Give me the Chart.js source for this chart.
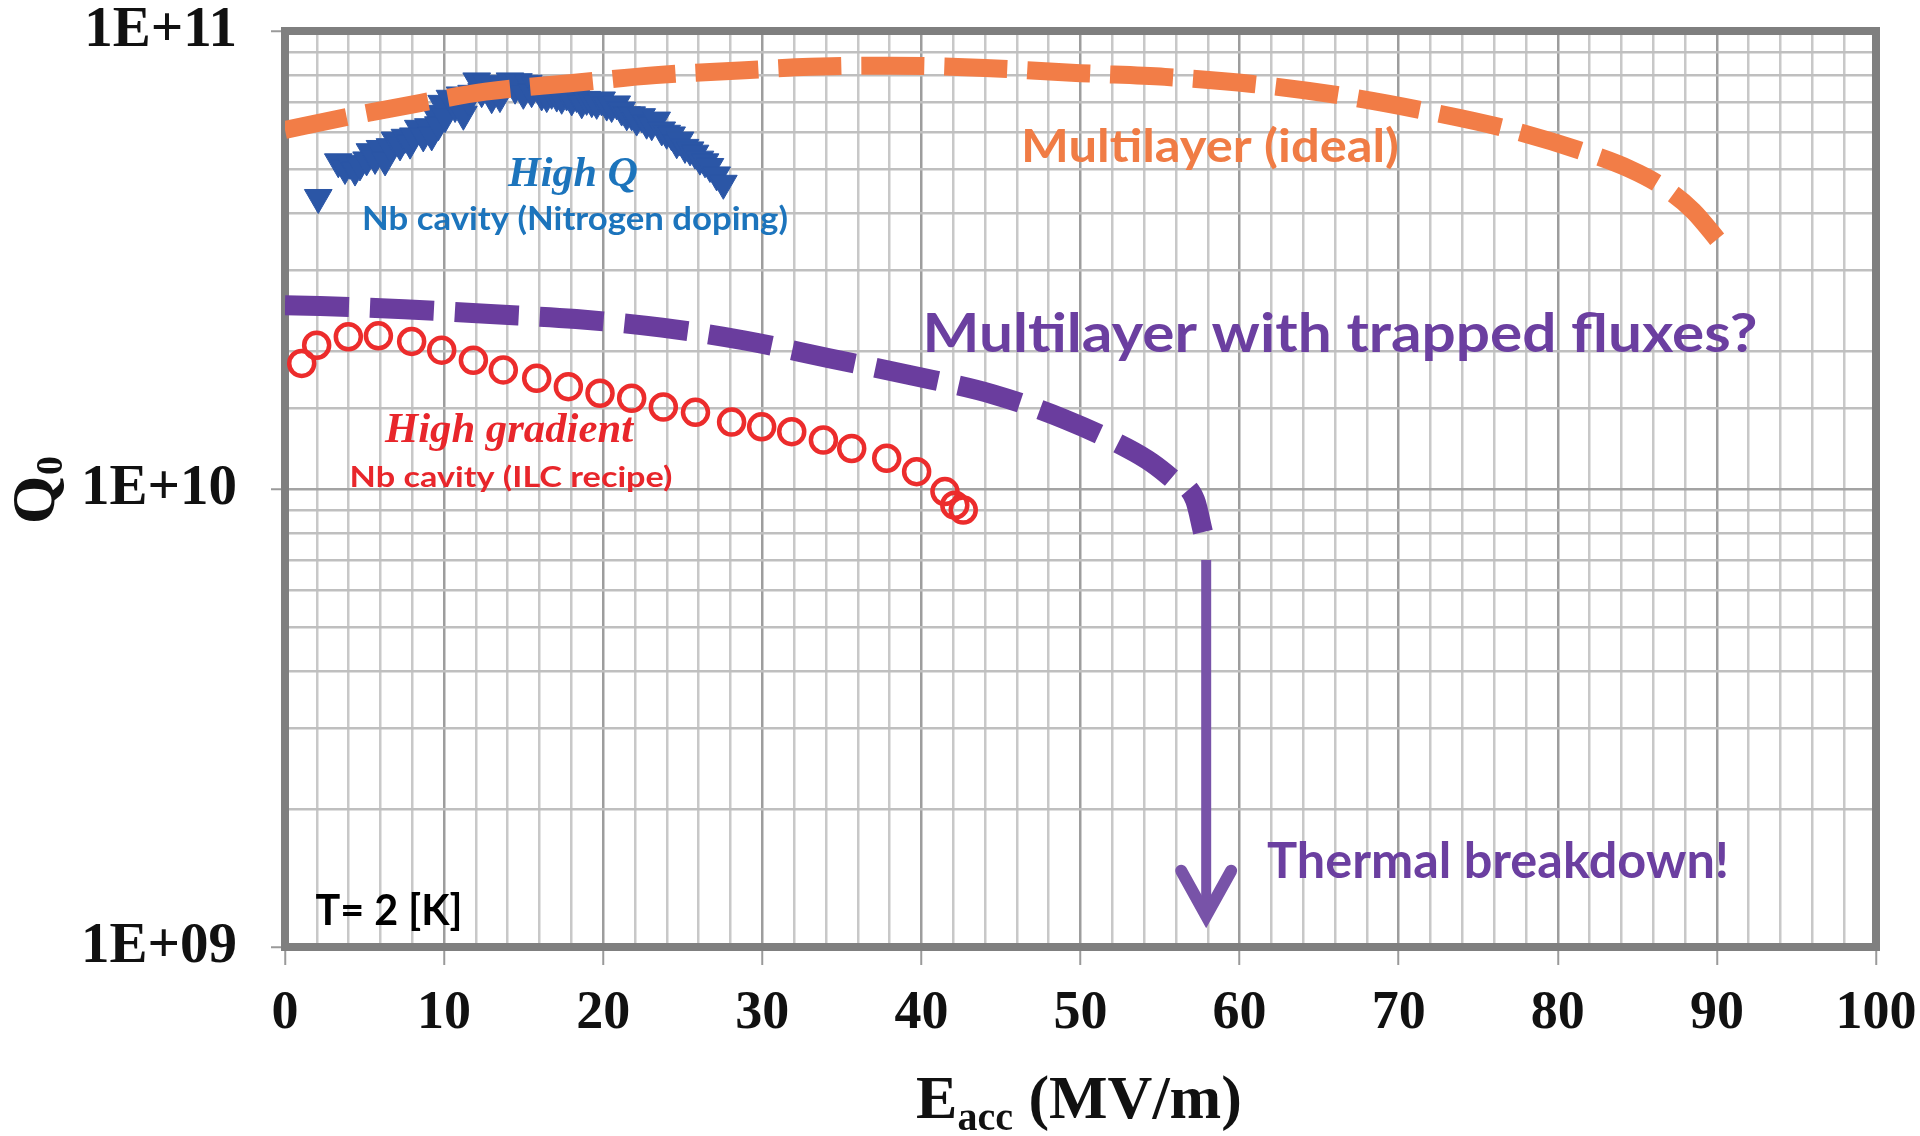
<!DOCTYPE html>
<html>
<head>
<meta charset="utf-8">
<script src="https://cdn.jsdelivr.net/npm/chart.js@4.4.1/dist/chart.umd.min.js"></script>
<style>
html,body{margin:0;padding:0;background:#ffffff;}
canvas{display:block;}
</style>
</head>
<body>
<canvas id="c" width="1920" height="1136"></canvas>
<script>
// ---------------- DATA ----------------
// Multilayer (ideal) – orange dashed curve
const idealE = [0, 3.5, 7.3, 12.6, 17.9, 23.3, 28.6, 33, 38, 44, 50, 55.3, 60.8, 66.1, 71.4, 76.6, 81.7, 84.5, 86.6, 88.5, 90.2];
const idealQ = [6.08e10, 6.45e10, 6.84e10, 7.37e10, 7.69e10, 8.01e10, 8.2e10, 8.35e10, 8.4e10, 8.3e10, 8.09e10, 7.94e10, 7.66e10, 7.25e10, 6.72e10, 6.14e10, 5.44e10, 5.0e10, 4.57e10, 4.05e10, 3.45e10];

// Multilayer with trapped fluxes – purple dashed curve
const trapE = [0, 2.2, 7.5, 12.9, 18.3, 23.7, 28.9, 34.2, 39.4, 44.5, 49, 52.9, 54.5, 55.8, 57.2, 57.7];
const trapQ = [2.52e10, 2.51e10, 2.47e10, 2.41e10, 2.35e10, 2.25e10, 2.11e10, 1.93e10, 1.77e10, 1.61e10, 1.42e10, 1.23e10, 1.14e10, 1.05e10, 9.46e9, 8.05e9];

// High Q – Nb cavity (Nitrogen doping), blue triangles
const highQE = [2.09,3.35,3.77,4.09,4.40,4.71,5.13,5.34,5.66,5.97,6.29,6.60,6.91,7.23,7.54,7.86,8.07,8.38,8.69,9.01,9.22,9.43,9.64,9.85,10.06,10.37,10.69,11.00,11.21,11.52,11.73,12.05,12.36,12.68,12.99,13.20,13.51,13.72,14.14,14.46,14.67,14.98,15.29,15.50,15.71,16.13,16.45,16.76,17.08,17.39,17.70,18.02,18.33,18.65,18.96,19.28,19.59,19.90,20.22,20.53,20.85,21.16,21.48,21.79,22.10,22.42,22.73,23.05,23.36,23.68,23.99,24.30,24.62,24.83,25.14,25.46,25.77,26.08,26.40,26.71,27.13,27.55];
const highQQ = [4.33e10,5.18e10,5.01e10,5.14e10,4.97e10,5.10e10,5.23e10,5.45e10,5.27e10,5.54e10,5.23e10,5.59e10,5.78e10,5.64e10,5.86e10,5.69e10,5.90e10,6.13e10,5.90e10,6.18e10,5.93e10,6.61e10,6.24e10,6.95e10,6.50e10,7.13e10,6.84e10,7.25e10,6.58e10,7.07e10,7.31e10,7.78e10,7.37e10,7.69e10,7.15e10,7.43e10,7.19e10,7.62e10,7.78e10,7.50e10,7.75e10,7.31e10,7.69e10,7.37e10,7.62e10,7.25e10,7.19e10,7.31e10,7.21e10,7.13e10,7.25e10,7.07e10,7.19e10,6.97e10,7.09e10,7.01e10,6.95e10,7.07e10,6.89e10,6.84e10,6.93e10,6.72e10,6.56e10,6.56e10,6.39e10,6.50e10,6.29e10,6.24e10,6.39e10,6.08e10,5.98e10,5.93e10,5.70e10,5.78e10,5.57e10,5.50e10,5.41e10,5.25e10,5.18e10,5.06e10,4.85e10,4.65e10];

// High gradient – Nb cavity (ILC recipe), red circles
const gradE = [1.05,1.99,3.98,5.87,7.96,9.85,11.84,13.72,15.82,17.81,19.80,21.79,23.78,25.80,28.07,29.96,31.85,33.84,35.62,37.82,39.70,41.48,42.10,42.63];
const gradQ = [1.88e10,2.06e10,2.15e10,2.16e10,2.10e10,2.01e10,1.91e10,1.82e10,1.745e10,1.673e10,1.618e10,1.578e10,1.51e10,1.47e10,1.40e10,1.367e10,1.334e10,1.279e10,1.226e10,1.167e10,1.091e10,9.87e9,9.22e9,9.0e9];

// Thermal breakdown arrow (E, Q from -> Q to)
const arrowE = 57.9;
const arrowQ = [7.0e9, 1.17e9];

// Tick labels
const xTickValues = [0, 10, 20, 30, 40, 50, 60, 70, 80, 90, 100];
const xTickLabels = ['0', '10', '20', '30', '40', '50', '60', '70', '80', '90', '100'];
const yTickValues = [1e9, 1e10, 1e11];
const yTickLabels = ['1E+09', '1E+10', '1E+11'];

// ---------------- HELPERS ----------------
function pts(xs, ys) { return xs.map((x, i) => ({ x: x, y: ys[i] })); }
function xIdx(v) { return xTickValues.findIndex(t => Math.abs(t - v) < 1e-6); }
function yIdx(v) { return yTickValues.findIndex(t => Math.abs(t - v) / t < 1e-6); }

const SERIF = '"Liberation Serif", "Times New Roman", serif';
const SANS = 'Lato, "Open Sans", sans-serif';
const TARGET = { left: 285, top: 31, right: 1876, bottom: 947 };

const annotations = [
  { text: 'High Q', font: 'italic bold 43px ' + SERIF, color: '#1c74bc', cx: 573, base: 186, w: 130 },
  { text: 'Nb cavity (Nitrogen doping)', font: 'bold 32px ' + SANS, color: '#1c74bc', cx: 575, base: 230, w: 426 },
  { text: 'Multilayer (ideal)', font: 'bold 46px ' + SANS, color: '#f07c45', cx: 1210, base: 162, w: 378 },
  { text: 'Multilayer with trapped fluxes?', font: 'bold 54px ' + SANS, color: '#6b3fa0', cx: 1340, base: 352, w: 835 },
  { text: 'High gradient', font: 'italic bold 42px ' + SERIF, color: '#e8262b', cx: 509, base: 442, w: 248 },
  { text: 'Nb cavity (ILC recipe)', font: 'bold 28px ' + SANS, color: '#e8262b', cx: 511, base: 487, w: 323 },
  { text: 'Thermal breakdown!', font: 'bold 49px ' + SANS, color: '#6b3fa0', cx: 1498, base: 878, w: 462 },
  { text: 'T= 2 [K]', font: 'bold 42px ' + SANS, color: '#000000', cx: 389, base: 925, w: 147 }
];

function drawFitted(ctx, a) {
  ctx.save();
  ctx.font = a.font;
  ctx.fillStyle = a.color;
  ctx.textAlign = 'left';
  ctx.textBaseline = 'alphabetic';
  const w = ctx.measureText(a.text).width;
  const s = a.w / w;
  ctx.translate(a.cx - a.w / 2, a.base);
  ctx.scale(s, 1);
  ctx.fillText(a.text, 0, 0);
  ctx.restore();
}

const decorPlugin = {
  id: 'decor',
  beforeDatasetsDraw(chart) {
    const ctx = chart.ctx, a = chart.chartArea;
    ctx.save();
    ctx.strokeStyle = '#7f7f7f';
    ctx.lineWidth = 8;
    ctx.strokeRect(a.left, a.top, a.right - a.left, a.bottom - a.top);
    ctx.restore();
  },
  afterDatasetsDraw(chart) {
    const ctx = chart.ctx;
    const xs = chart.scales.x, ys = chart.scales.y;
    const x = xs.getPixelForValue(arrowE);
    const y1 = ys.getPixelForValue(arrowQ[0]);
    const y2 = ys.getPixelForValue(arrowQ[1]);
    ctx.save();
    ctx.strokeStyle = '#7853a8';
    ctx.lineWidth = 10;
    ctx.lineCap = 'butt';
    ctx.beginPath();
    ctx.moveTo(x, y1);
    ctx.lineTo(x, y2 - 4);
    ctx.stroke();
    ctx.lineWidth = 12;
    ctx.lineCap = 'round';
    ctx.lineJoin = 'miter';
    ctx.miterLimit = 10;
    ctx.beginPath();
    ctx.moveTo(x - 25, y2 - 45);
    ctx.lineTo(x, y2);
    ctx.lineTo(x + 25, y2 - 45);
    ctx.stroke();
    ctx.restore();
  },
  afterDraw(chart) {
    const ctx = chart.ctx;
    annotations.forEach(a => drawFitted(ctx, a));

    // x-axis title: E_acc (MV/m)
    ctx.save();
    ctx.fillStyle = '#111111';
    ctx.textBaseline = 'alphabetic';
    ctx.textAlign = 'left';
    const big = 'bold 62px ' + SERIF, small = 'bold 40px ' + SERIF;
    ctx.font = big; const wE = ctx.measureText('E').width; const wU = ctx.measureText(' (MV/m)').width;
    ctx.font = small; const wS = ctx.measureText('acc').width;
    let x0 = 1079 - (wE + wS + wU) / 2;
    const base = 1118;
    ctx.font = big; ctx.fillText('E', x0, base); x0 += wE;
    ctx.font = small; ctx.fillText('acc', x0, base + 12); x0 += wS;
    ctx.font = big; ctx.fillText(' (MV/m)', x0, base);
    ctx.restore();

    // y-axis title: Q0 rotated
    ctx.save();
    ctx.fillStyle = '#111111';
    ctx.translate(54, 500);
    ctx.rotate(-Math.PI / 2);
    ctx.textBaseline = 'alphabetic';
    ctx.font = 'bold 62px ' + SERIF;
    ctx.textAlign = 'center';
    ctx.fillText('Q', 0, 0);
    const wq = ctx.measureText('Q').width;
    ctx.font = 'bold 38px ' + SERIF;
    ctx.textAlign = 'left';
    ctx.fillText('0', wq / 2 + 1, 8);
    ctx.restore();
  }
};

const chart = new Chart(document.getElementById('c'), {
  type: 'scatter',
  data: {
    datasets: [
      {
        label: 'Multilayer (ideal)',
        data: pts(idealE, idealQ),
        showLine: true,
        borderColor: '#f27d47',
        borderWidth: 18,
        borderDash: [63, 20],
        borderCapStyle: 'butt',
        pointRadius: 0,
        cubicInterpolationMode: 'monotone',
        tension: 0.4,
        fill: false
      },
      {
        label: 'Multilayer with trapped fluxes?',
        data: pts(trapE, trapQ),
        showLine: true,
        borderColor: '#6a3d9e',
        borderWidth: 20,
        borderDash: [64, 21],
        borderCapStyle: 'butt',
        pointRadius: 0,
        cubicInterpolationMode: 'monotone',
        tension: 0.4,
        fill: false
      },
      {
        label: 'High gradient',
        data: pts(gradE, gradQ),
        showLine: false,
        pointStyle: 'circle',
        pointRadius: 12.5,
        pointBorderWidth: 4.5,
        pointBackgroundColor: 'rgba(0,0,0,0)',
        pointBorderColor: '#ec2c2c'
      },
      {
        label: 'High Q',
        data: pts(highQE, highQQ),
        showLine: false,
        pointStyle: 'triangle',
        pointRotation: 180,
        pointRadius: 16,
        pointBorderWidth: 1,
        pointBackgroundColor: '#2b56a6',
        pointBorderColor: '#2b56a6'
      }
    ]
  },
  options: {
    responsive: false,
    devicePixelRatio: 1,
    animation: false,
    events: [],
    layout: { autoPadding: false, padding: { left: 0, top: TARGET.top, right: 1920 - TARGET.right, bottom: 0 } },
    plugins: { legend: { display: false }, tooltip: { enabled: false } },
    scales: {
      x: {
        type: 'linear',
        min: 0, max: 100,
        afterFit: (s) => { s.height = 1136 - TARGET.bottom; s.paddingLeft = 0; s.paddingRight = 0; },
        border: { display: false },
        grid: {
          color: (c) => (xIdx(c.tick.value) >= 0 ? '#9d9d9d' : '#c8c8c8'),
          lineWidth: 2.5,
          drawTicks: true,
          tickLength: 18,
          tickWidth: 2,
          tickColor: (c) => (xIdx(c.tick.value) >= 0 ? '#9a9a9a' : 'rgba(0,0,0,0)')
        },
        ticks: {
          stepSize: 2,
          autoSkip: false,
          maxRotation: 0,
          padding: 17,
          color: '#111111',
          font: { family: SERIF, size: 54, weight: 'bold', lineHeight: 1.2 },
          callback: (v) => { const i = xIdx(v); return i >= 0 ? xTickLabels[i] : ''; }
        }
      },
      y: {
        type: 'logarithmic',
        min: 1e9, max: 1e11,
        afterFit: (s) => { s.width = TARGET.left; s.paddingTop = 0; s.paddingBottom = 0; },
        border: { display: false },
        grid: {
          color: (c) => (yIdx(c.tick.value) >= 0 ? '#a3a3a3' : '#bfbfbf'),
          lineWidth: 2.5,
          drawTicks: true,
          tickLength: 14,
          tickWidth: 2,
          tickColor: (c) => (yIdx(c.tick.value) >= 0 ? '#9a9a9a' : 'rgba(0,0,0,0)')
        },
        ticks: {
          autoSkip: false,
          padding: 34,
          color: '#111111',
          font: { family: SERIF, size: 57, weight: 'bold', lineHeight: 1.0 },
          callback: (v) => { const i = yIdx(v); return i >= 0 ? yTickLabels[i] : ''; }
        }
      }
    }
  },
  plugins: [decorPlugin]
});

// fallback correction so the plot area lands exactly on the target box
for (let k = 0; k < 2; k++) {
  const a = chart.chartArea;
  const p = chart.options.layout.padding;
  const dt = a.top - TARGET.top, dr = TARGET.right - a.right;
  if (Math.abs(dt) < 0.5 && Math.abs(dr) < 0.5) break;
  p.top = Math.max(0, p.top - dt);
  p.right = Math.max(0, p.right - dr);
  chart.update('none');
}
</script>
</body>
</html>
